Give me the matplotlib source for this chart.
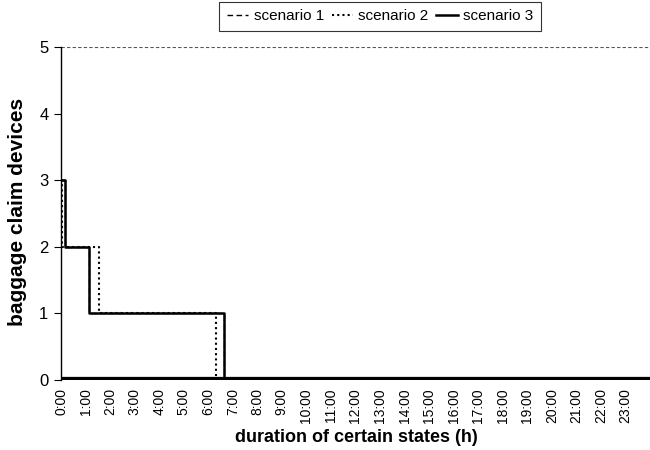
import matplotlib
matplotlib.use("Agg")
import matplotlib.pyplot as plt

plt.rcParams['font.family'] = ['Liberation Sans', 'DejaVu Sans']

# step data: (hours, devices)
s1_t = [0.0, 0.15, 0.15, 1.15, 1.15, 6.64, 6.64, 24.0]
s1_y = [3, 3, 2, 2, 1, 1, 0, 0]
s2_t = [0.0, 0.06, 0.06, 1.56, 1.56, 6.33, 6.33, 24.0]
s2_y = [3, 3, 2, 2, 1, 1, 0, 0]
s3_t = [0.0, 0.15, 0.15, 1.15, 1.15, 6.64, 6.64, 24.0]
s3_y = [3, 3, 2, 2, 1, 1, 0, 0]

hours = list(range(0, 24))
hour_labels = [f"{h}:00" for h in hours]
y_ticks = [0, 1, 2, 3, 4, 5]

W, H = 650, 450
fig = plt.figure(figsize=(6.5, 4.5), dpi=100)
ax = fig.add_axes([61/W, 1-380/H, 1-61/W, (380-47)/H])

ax.plot(s1_t, s1_y, color='black', lw=1.0, ls=(0, (4, 2.5)), label='scenario 1')
ax.plot(s2_t, s2_y, color='black', lw=1.5, ls=(0, (1, 1.5)), label='scenario 2')
ax.plot(s3_t, s3_y, color='black', lw=1.8, ls='-', label='scenario 3')
ax.plot([0, 24], [0, 0], color='black', lw=4.5, solid_capstyle='butt', zorder=3)

ax.axhline(5, color='#555555', lw=0.8, ls=(0, (3, 2)))

ax.set_xlim(0, 24)
ax.set_ylim(0, 5)
ax.set_xticks(hours)
ax.set_xticklabels(hour_labels, rotation=90, fontsize=10)
ax.set_yticks(y_ticks)
ax.set_yticklabels([str(v) for v in y_ticks], fontsize=12)
ax.tick_params(axis='x', length=0, pad=6)
ax.tick_params(axis='y', length=5, direction='out', width=0.8, pad=4)

for side in ['top', 'right', 'bottom']:
    ax.spines[side].set_visible(False)
ax.spines['left'].set_linewidth(1.0)

fig.text(17.5/W, 1-212/H, 'baggage claim devices', rotation=90, fontsize=15,
         fontweight='bold', ha='center', va='center')
fig.text(356/W, 1-438/H, 'duration of certain states (h)', fontsize=13,
         fontweight='bold', ha='center', va='center')

leg = fig.legend(loc='upper center', bbox_to_anchor=(380/W, 1.0), ncol=3, fontsize=11,
                 frameon=True, fancybox=False, edgecolor='black', handlelength=1.4,
                 handletextpad=0.35, columnspacing=0.5, borderpad=0.5, borderaxespad=0.1)
leg.get_frame().set_linewidth(0.8)

fig.savefig('out.png', dpi=100)
